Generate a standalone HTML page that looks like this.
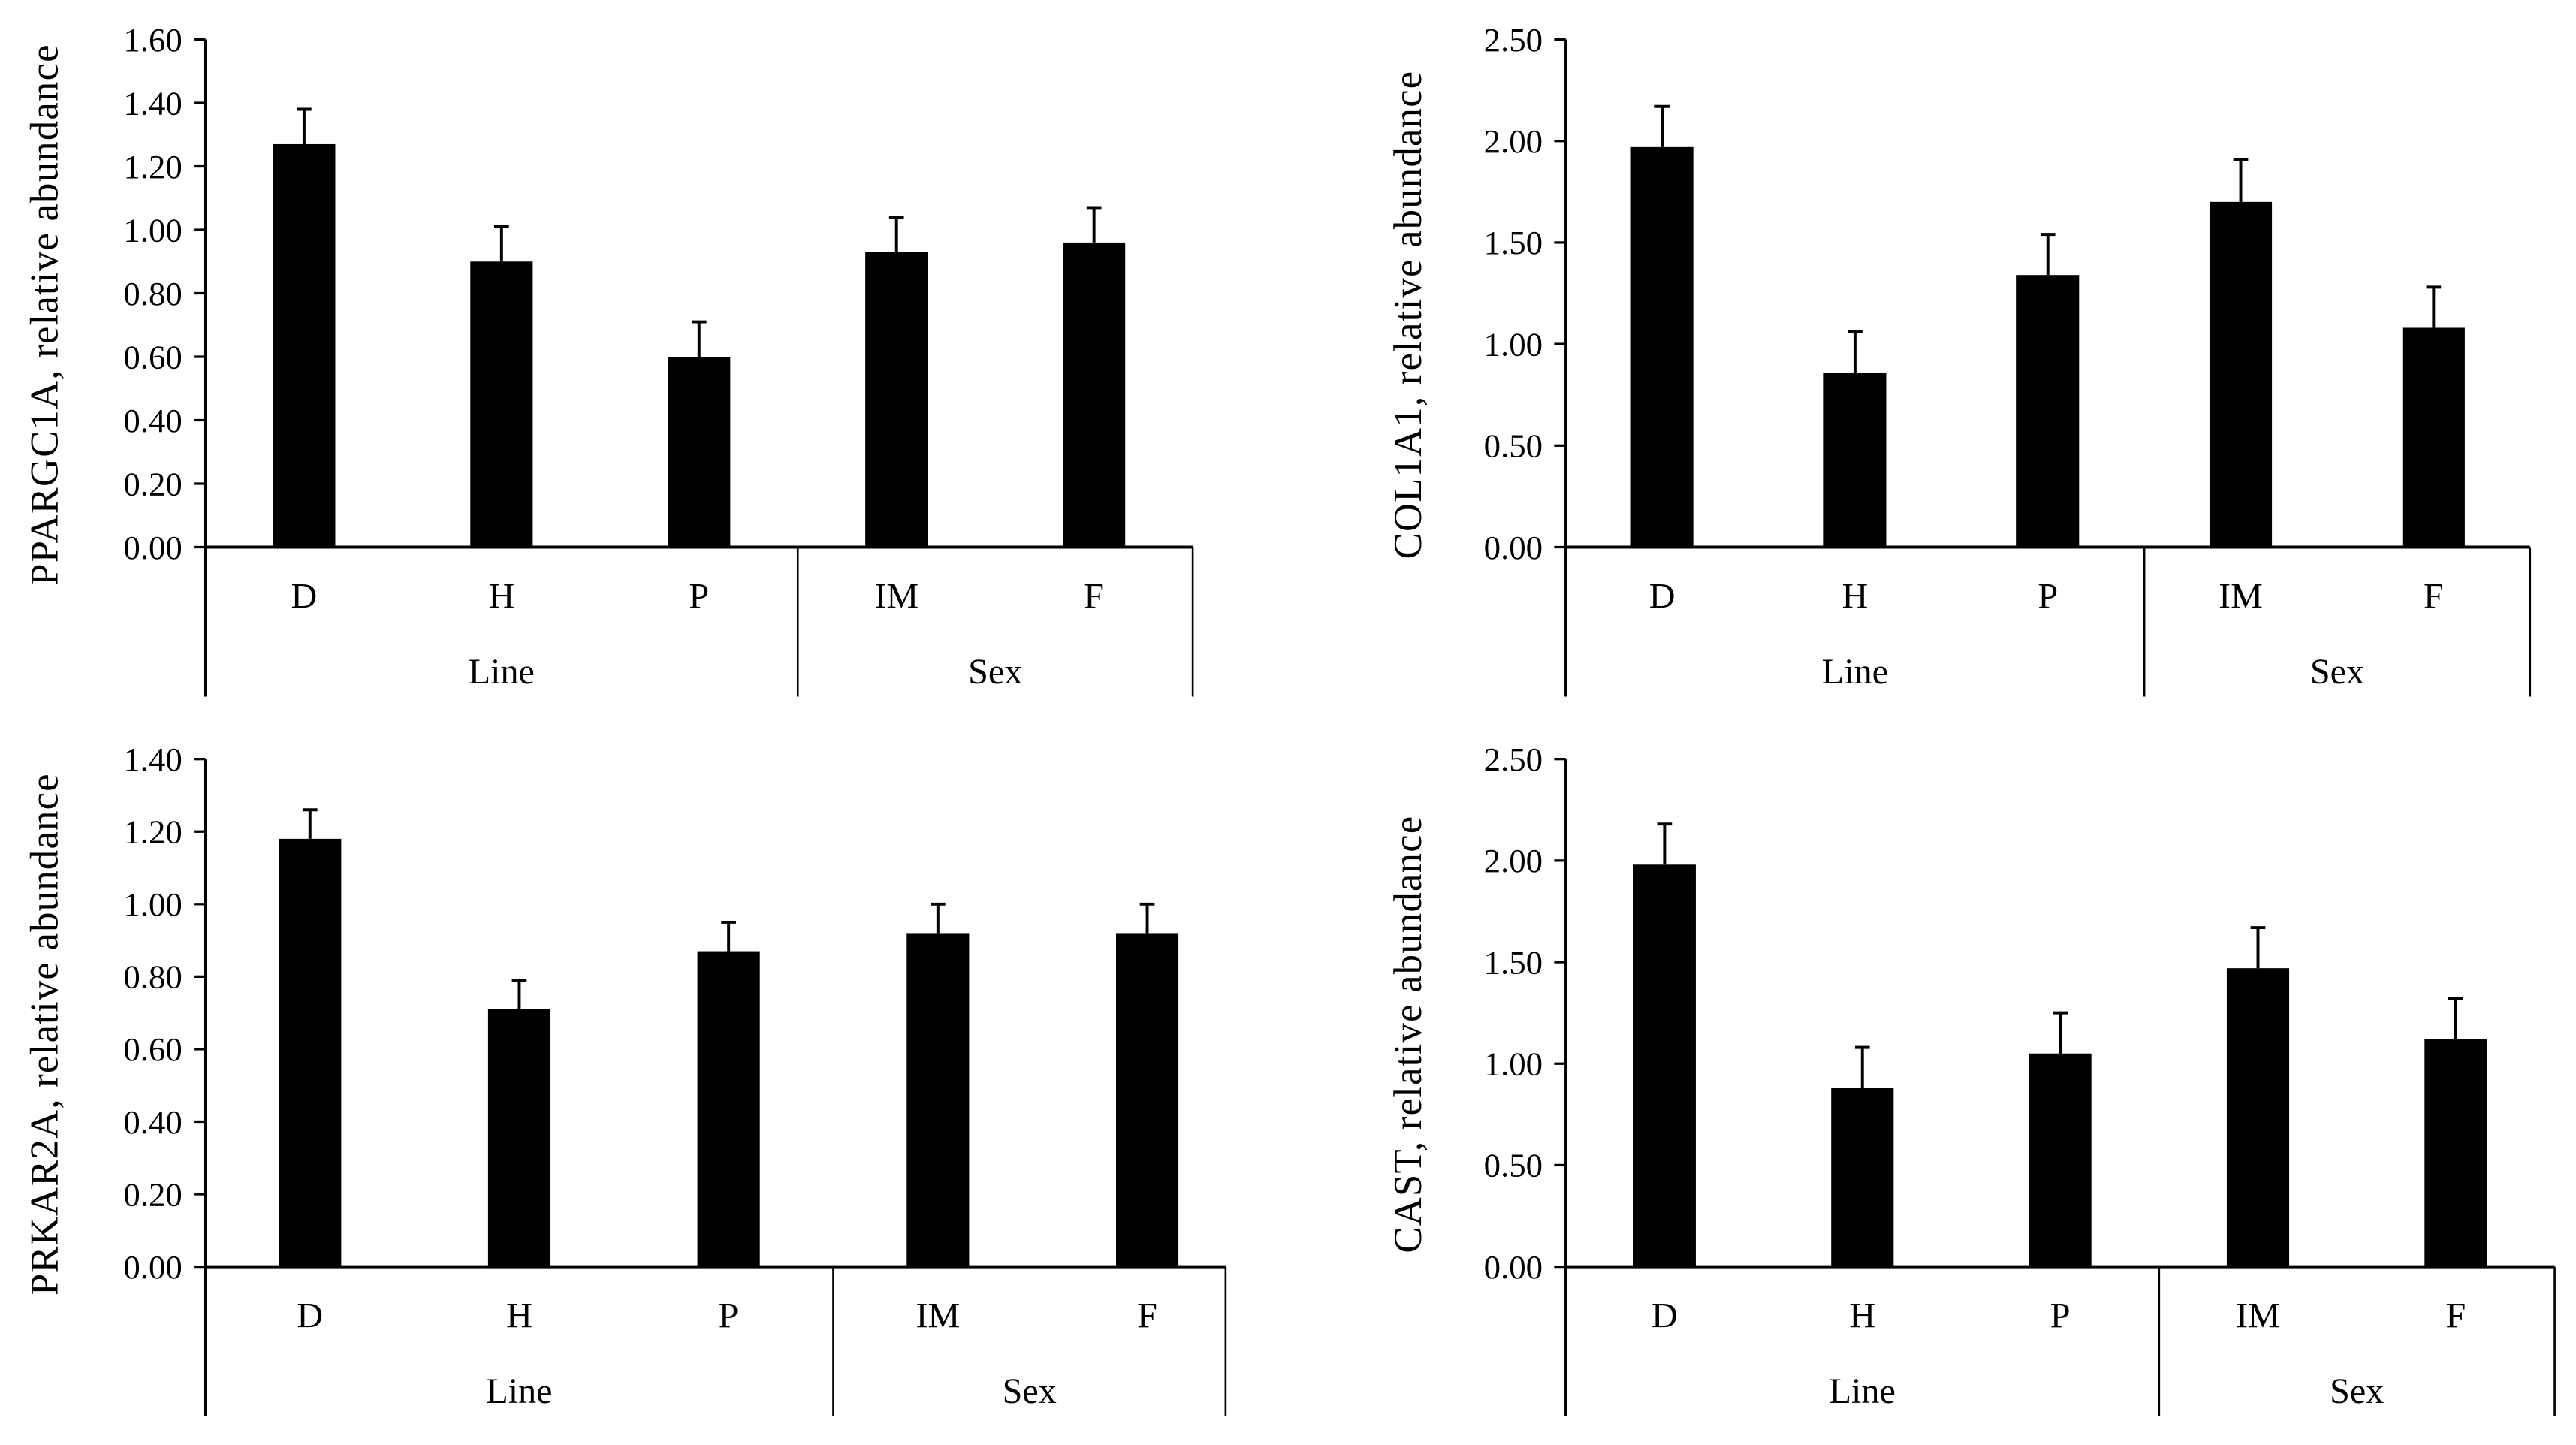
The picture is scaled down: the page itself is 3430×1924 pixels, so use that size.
<!DOCTYPE html>
<html><head><meta charset="utf-8"><style>
html,body{margin:0;padding:0;background:#fff;}
svg{display:block;}
text{font-family:"Liberation Serif",serif;fill:#000;}
</style></head><body>
<svg id="fig" width="3430" height="1924" viewBox="0 0 1568 879.5" xmlns="http://www.w3.org/2000/svg"></svg>
<script>
const categories = ["D","H","P","IM","F"];
const groupLabels = ["Line","Sex"];
const titles = ["PPARGC1A, relative abundance","COL1A1, relative abundance","PRKAR2A, relative abundance","CAST, relative abundance"];
const values1 = [1.27,0.90,0.60,0.93,0.96];
const errors1 = [0.11,0.11,0.11,0.11,0.11];
const values2 = [1.97,0.86,1.34,1.70,1.08];
const errors2 = [0.20,0.20,0.20,0.21,0.20];
const values3 = [1.18,0.71,0.87,0.92,0.92];
const errors3 = [0.08,0.08,0.08,0.08,0.08];
const values4 = [1.98,0.88,1.05,1.47,1.12];
const errors4 = [0.20,0.20,0.20,0.20,0.20];
const ticks1 = [0,0.2,0.4,0.6,0.8,1.0,1.2,1.4,1.6];
const ticks2 = [0,0.5,1.0,1.5,2.0,2.5];
const ticks3 = [0,0.2,0.4,0.6,0.8,1.0,1.2,1.4];
const ticks4 = [0,0.5,1.0,1.5,2.0,2.5];

const NS="http://www.w3.org/2000/svg";
const svg=document.getElementById('fig');
function mk(tag,attrs,parent){const e=document.createElementNS(NS,tag);for(const k in attrs)e.setAttribute(k,attrs[k]);(parent||svg).appendChild(e);return e;}

const panels=[
 {x0:125,x1:726,step:120.2,yTop:24,y0:333,yb:424,vals:values1,errs:errors1,ticks:ticks1,title:titles[0],tx:27,name:'ppargc1a'},
 {x0:953,x1:1540,step:117.4,yTop:24,y0:333,yb:424,vals:values2,errs:errors2,ticks:ticks2,title:titles[1],tx:857,name:'col1a1'},
 {x0:125,x1:746,step:127.4,yTop:462,y0:771,yb:862,vals:values3,errs:errors3,ticks:ticks3,title:titles[2],tx:27,name:'prkar2a'},
 {x0:953,x1:1555,step:120.4,yTop:462,y0:771,yb:862,vals:values4,errs:errors4,ticks:ticks4,title:titles[3],tx:857,name:'cast'}
];
panels.forEach(p=>{
 const g=mk('g',{});
 
 
 const tmax=p.ticks[p.ticks.length-1];
 const ys=v=>p.y0-(v/tmax)*(p.y0-p.yTop);
 const step=p.step;
 const xc=i=>p.x0+step*(i+0.5);
 p.vals.forEach((v,i)=>{
  const top=ys(v), et=ys(v+p.errs[i]);
  const b=mk('rect',{x:xc(i)-19,y:top,width:38,height:p.y0-top,fill:'#000'},g);
  
  
  const e=mk('path',{d:`M${xc(i)} ${top} V${et} M${xc(i)-4.5} ${et} H${xc(i)+4.5}`,stroke:'#000','stroke-width':1.8,fill:'none'},g);
  
  
 });
 const ax=mk('line',{x1:p.x0,y1:p.yTop,x2:p.x0,y2:p.yb,stroke:'#000','stroke-width':1.5},g);
 
 
 p.ticks.forEach(t=>{
  const y=ys(t);
  mk('line',{x1:p.x0-7,y1:y,x2:p.x0,y2:y,stroke:'#000','stroke-width':1.5},g);
  const tl=mk('text',{x:p.x0-14,y:y+7,'text-anchor':'end','font-size':20.5},g);
  tl.textContent=t.toFixed(2);
  
  
 });
 const xa=mk('line',{x1:p.x0,y1:p.y0,x2:p.x1,y2:p.y0,stroke:'#000','stroke-width':1.8},g);
 
 
 const xd=p.x0+step*3;
 mk('line',{x1:xd,y1:p.y0,x2:xd,y2:p.yb,stroke:'#000','stroke-width':1.2},g);
 mk('line',{x1:p.x1,y1:p.y0,x2:p.x1,y2:p.yb,stroke:'#000','stroke-width':1.2},g);
 categories.forEach((c,i)=>{
  const t=mk('text',{x:xc(i),y:p.y0+37,'text-anchor':'middle','font-size':22},g);
  t.textContent=c;
  
  
 });
 const gl1=mk('text',{x:(p.x0+xd)/2,y:p.y0+83,'text-anchor':'middle','font-size':22},g);
 gl1.textContent=groupLabels[0];
 
 
 const gl2=mk('text',{x:(xd+p.x1)/2,y:p.y0+83,'text-anchor':'middle','font-size':22},g);
 gl2.textContent=groupLabels[1];
 
 
 const yt=mk('text',{x:0,y:0,'text-anchor':'middle','font-size':24,'letter-spacing':0.6,transform:`translate(${p.tx+8},${(p.yTop+p.y0)/2+13}) rotate(-90)`},g);
 yt.textContent=p.title;
 
 
});
</script>
</body></html>
